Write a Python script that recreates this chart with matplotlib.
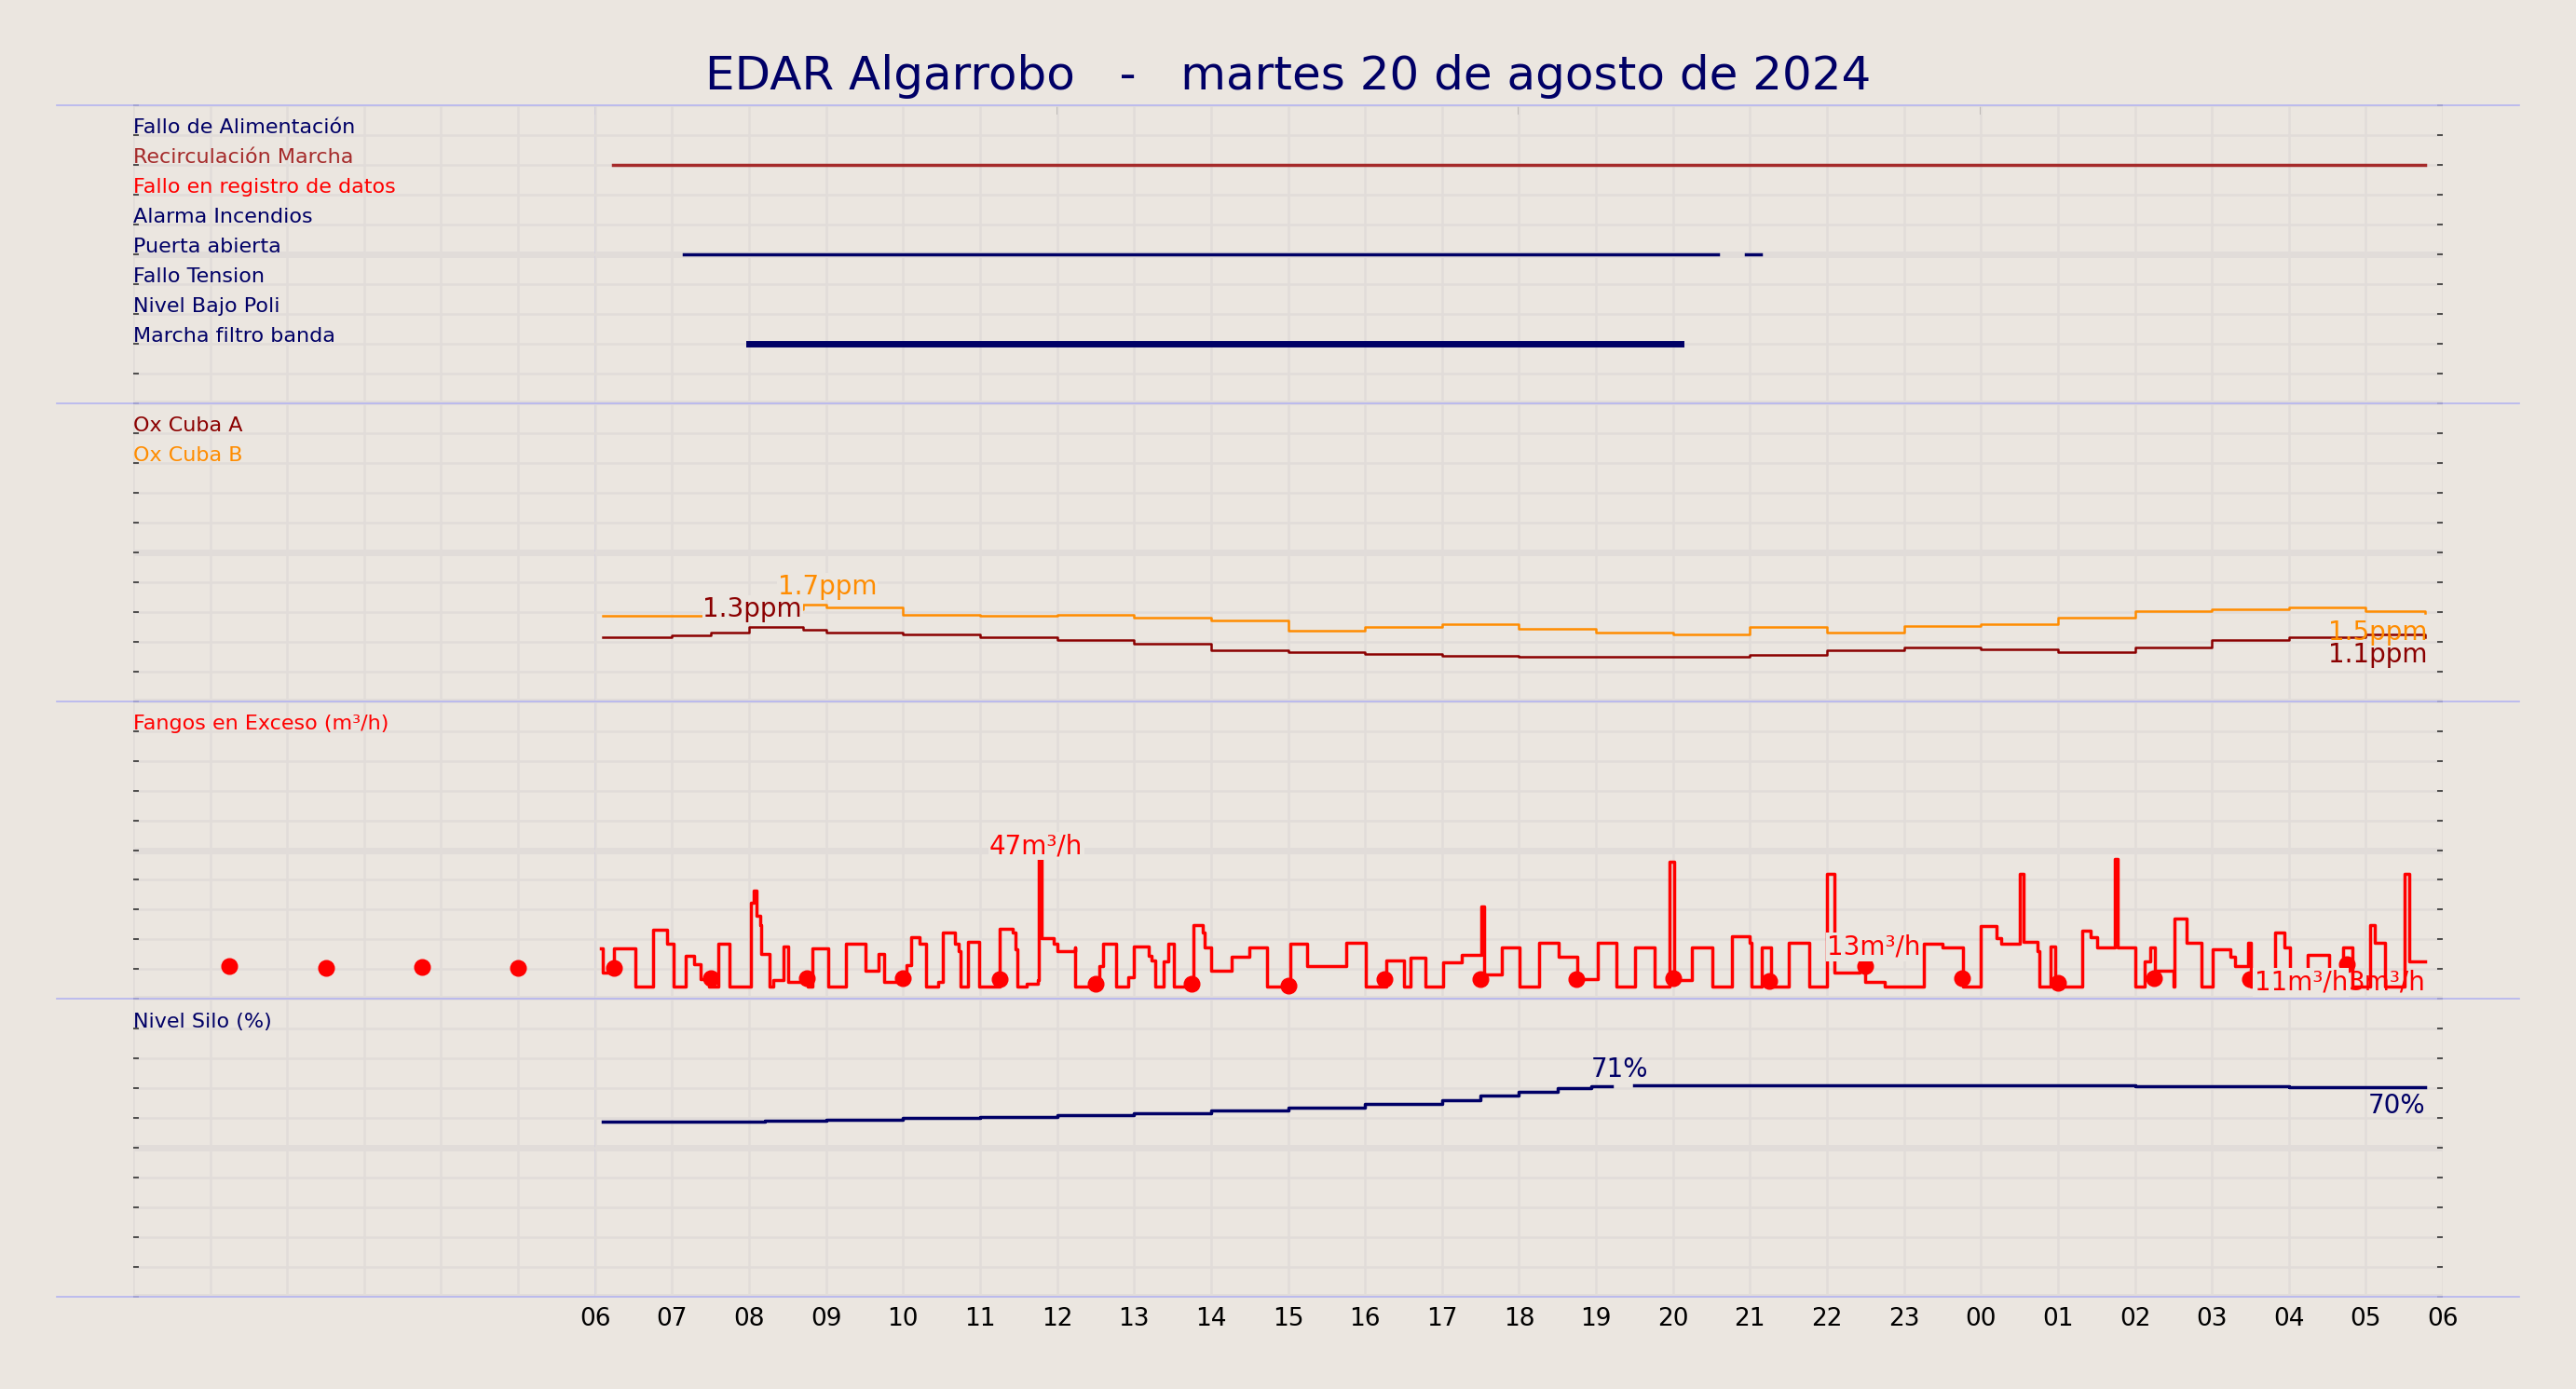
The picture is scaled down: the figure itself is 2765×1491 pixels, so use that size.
import numpy as np
import matplotlib
matplotlib.use("Agg")
import matplotlib.pyplot as plt
from matplotlib.lines import Line2D

BG = '#ebe6e0'
GRID = '#e1dcd9'
NAVY = '#000066'
SEP = '#b4b4f0'

title = "EDAR Algarrobo   -   martes 20 de agosto de 2024"
hour_ticks = list(range(6, 31))
hour_labels = ["%02d" % (h % 24) for h in hour_ticks]

# Panel 1: digital signals
signal_names = ["Fallo de Alimentación", "Recirculación Marcha", "Fallo en registro de datos",
                "Alarma Incendios", "Puerta abierta", "Fallo Tension", "Nivel Bajo Poli",
                "Marcha filtro banda"]
signal_colors = [NAVY, '#a52a2a', 'red', NAVY, NAVY, NAVY, NAVY, NAVY]
recirc_on = [(6.23, 29.77)]
puerta_on = [(7.15, 20.58), (20.95, 21.14)]
filtro_on = [(8.0, 20.1)]

# Panel 2: oxygen (ppm)
ox_t = [6.1, 7.0, 7.5, 8.0, 8.7, 9.0, 10.0, 11.0, 12.0, 13.0, 14.0, 15.0, 16.0, 17.0, 18.0,
        19.0, 20.0, 21.0, 22.0, 23.0, 24.0, 25.0, 26.0, 27.0, 28.0, 29.0, 29.77]
ox_a = [1.11, 1.14, 1.2, 1.29, 1.25, 1.2, 1.17, 1.11, 1.06, 1.0, 0.89, 0.86, 0.82, 0.79, 0.77,
        0.77, 0.78, 0.8, 0.89, 0.94, 0.91, 0.86, 0.94, 1.06, 1.11, 1.17, 1.12]
ox_b = [1.49, 1.49, 1.55, 1.6, 1.69, 1.63, 1.51, 1.49, 1.51, 1.46, 1.4, 1.23, 1.29, 1.34, 1.26,
        1.2, 1.17, 1.29, 1.2, 1.31, 1.34, 1.46, 1.57, 1.6, 1.63, 1.57, 1.54]

# Panel 3: fangos (m3/h)
fang_t = [6.08, 6.10, 6.25, 6.52, 6.75, 6.94, 7.02, 7.18, 7.28, 7.37, 7.48, 7.60, 7.75, 8.02, 8.06,
          8.10, 8.14, 8.16, 8.26, 8.31, 8.45, 8.51, 8.76, 8.82, 9.03, 9.26, 9.51, 9.68, 9.76, 10.04,
          10.11, 10.22, 10.30, 10.45, 10.52, 10.67, 10.72, 10.75, 10.84, 10.99, 11.26, 11.42, 11.46,
          11.49, 11.61, 11.75, 11.76, 11.80, 11.96, 12.0, 12.23, 12.24, 12.55, 12.60, 12.77, 12.92,
          13.00, 13.19, 13.23, 13.27, 13.38, 13.45, 13.52, 13.77, 13.89, 13.92, 14.00, 14.27, 14.50,
          14.73, 15.03, 15.25, 15.76, 16.01, 16.28, 16.51, 16.59, 16.78, 17.01, 17.26, 17.51, 17.55,
          17.78, 18.01, 18.26, 18.51, 18.76, 19.02, 19.26, 19.51, 19.76, 19.96, 20.02, 20.25, 20.51,
          20.77, 21.00, 21.02, 21.15, 21.27, 21.51, 21.77, 22.00, 22.10, 22.42, 22.50, 22.75, 23.26,
          23.50, 23.77, 24.00, 24.20, 24.26, 24.51, 24.55, 24.74, 24.76, 24.91, 24.97, 25.32, 25.42,
          25.51, 25.74, 25.78, 26.01, 26.13, 26.20, 26.26, 26.50, 26.52, 26.67, 26.86, 27.01, 27.24,
          27.30, 27.47, 27.51, 27.82, 27.94, 28.02, 28.25, 28.52, 28.71, 28.83, 29.06, 29.11, 29.25,
          29.50, 29.56, 29.77]
fang_v = [17, 9.0, 17, 4.3, 23.2, 18.5, 4.3, 14.6, 11.8, 6.8, 4.3, 18.5, 4.3, 32.3, 36.4,
          28.1, 24.9, 15.2, 4.3, 6.3, 17.8, 5.8, 4.3, 16.9, 4.3, 18.5, 9.4, 15.2, 5.8, 11.5,
          20.9, 18.5, 4.3, 5.8, 22.4, 18.5, 16.2, 4.3, 19.3, 4.3, 23.7, 22.4, 16.7,
          4.3, 5.0, 6.3, 47, 20.6, 18.5, 16.2, 17.2, 4.3, 11.0, 18.5, 4.3, 7.4,
          17.8, 14.6, 13.1, 4.3, 12.6, 18.5, 4.3, 24.9, 22.4, 17.2, 9.4, 14.1, 17.2,
          4.3, 18.5, 11.0, 18.8, 4.3, 13.1, 4.3, 13.9, 4.3, 12.3, 14.8, 31.0, 8.4,
          17.2, 4.3, 18.8, 14.1, 6.8, 19.0, 4.3, 17.2, 4.3, 46, 6.3, 17.2, 4.3,
          21, 18.8, 4.3, 17.2, 4.3, 18.8, 4.3, 42, 9.0, 11.5, 5.8, 4.3, 18.5,
          17.2, 4.3, 24.5, 20.6, 18.5, 42, 19.3, 16.2, 4.3, 17.8, 4.3, 23.1, 20.9,
          17.2, 47, 17.2, 4.3, 12.6, 17.4, 9.4, 4.3, 27.1, 18.8, 4.3, 16.7, 14.1,
          11.0, 18.8, 4.3, 22.4, 17.2, 4.3, 14.8, 4.3, 17.2, 4.3, 24.9, 18.8, 4.3,
          42, 12.6, 12.6]
dot_t = [1.25 * k for k in range(1, 24)]
dot_v = [11, 10.4, 10.7, 10.4, 10.4, 7.1, 7.1, 7.1, 6.6, 5.0, 5.0, 4.4, 6.6, 6.6, 6.6, 7.1,
         6.0, 11.0, 7.1, 5.5, 7.1, 6.6, 11.8]

# Panel 4: silo level (%)
silo_t = [6.1, 8.2, 9.0, 10.0, 11.0, 12.0, 13.0, 14.0, 15.0, 16.0, 17.0, 17.5, 18.0, 18.5, 18.94,
          19.2, 19.5, 22.0, 25.0, 26.0, 28.0, 29.77]
silo_v = [59.0, 59.2, 59.5, 60.0, 60.5, 61.0, 61.7, 62.5, 63.5, 64.8, 66.2, 67.5, 69.0, 70.0, 70.8,
          np.nan, 71.0, 71.0, 71.0, 70.6, 70.5, 70.3]

fig = plt.figure(figsize=(27.65, 14.91), dpi=100, facecolor=BG)
L, R, T, B = 0.0517, 0.9483, 0.9243, 0.0662
H = (T - B) / 4
tops = [10, 5.2, 100, 100]
axes = []
for i in range(4):
    ax = fig.add_axes([L, T - (i + 1) * H, R - L, H])
    ax.set_facecolor(BG)
    ax.set_xlim(0, 30)
    ax.set_ylim(0, tops[i])
    yt = np.linspace(0, tops[i], 11)
    ax.set_yticks(yt)
    ax.set_yticklabels([])
    ax.set_xticks(range(0, 31))
    ax.set_xticklabels([])
    for s in ax.spines.values():
        s.set_visible(False)
    ax.grid(True, color=GRID, lw=1.8, zorder=0)
    ax.axhline(yt[5], color=GRID, lw=5, zorder=0)
    ax.axhline(0, color=GRID, lw=5, zorder=0)
    ax.axvline(6, color=SEP, lw=1.2, zorder=1)
    ax.tick_params(axis='x', which='both', length=0)
    ax.tick_params(axis='y', left=True, right=True, length=4, width=1.2, direction='in', color='#333333')
    axes.append(ax)

ax1, ax2, ax3, ax4 = axes
FS = 16

# Panel 1
for k, (name, c) in enumerate(zip(signal_names, signal_colors)):
    ax1.text(0, 9 - k - 0.08, name, color=c, fontsize=FS, va='bottom', ha='left')
for a, b in recirc_on:
    ax1.plot([a, b], [8, 8], color='#a52a2a', lw=2.5)
for a, b in puerta_on:
    ax1.plot([a, b], [5, 5], color=NAVY, lw=2.5)
for a, b in filtro_on:
    ax1.plot([a, b], [2, 2], color=NAVY, lw=5)
sec = ax1.secondary_xaxis('top')
sec.set_xticks([6, 12, 18, 24])
sec.set_xticklabels([])
sec.tick_params(direction='in', length=7, width=1.2, color='#333333')
for s in sec.spines.values():
    s.set_visible(False)

# Panel 2
r = 0.52
ax2.text(0, 9 * r - 0.04, "Ox Cuba A", color='#8b0000', fontsize=FS, va='bottom')
ax2.text(0, 8 * r - 0.04, "Ox Cuba B", color='darkorange', fontsize=FS, va='bottom')
ax2.step(ox_t, ox_a, where='post', color='#8b0000', lw=1.8)
ax2.step(ox_t, ox_b, where='post', color='darkorange', lw=1.8)
ax2.text(8.37, 2.0, "1.7ppm", color='darkorange', fontsize=20, va='center', ha='left',
         bbox=dict(facecolor=BG, edgecolor='none', pad=0.5))
ax2.text(7.4, 1.6, "1.3ppm", color='#8b0000', fontsize=20, va='center', ha='left',
         bbox=dict(facecolor=BG, edgecolor='none', pad=0.5))
ax2.text(29.8, 1.2, "1.5ppm", color='darkorange', fontsize=20, va='center', ha='right')
ax2.text(29.8, 0.8, "1.1ppm", color='#8b0000', fontsize=20, va='center', ha='right')

# Panel 3
ax3.text(0, 89.2, "Fangos en Exceso (m³/h)", color='red', fontsize=FS, va='bottom')
ax3.step(fang_t, fang_v, where='post', color='red', lw=2.5, zorder=3)
ax3.plot(dot_t, dot_v, 'o', color='red', ms=12, zorder=4)
ax3.text(11.73, 47, "47m³/h", color='red', fontsize=20, va='bottom', ha='center',
         bbox=dict(facecolor=BG, edgecolor='none', pad=1))
ax3.text(22.0, 17.6, "13m³/h", color='red', fontsize=20, va='center', ha='left', zorder=5,
         bbox=dict(facecolor=BG, edgecolor='none', pad=1))
ax3.text(27.55, 5.5, "11m³/h", color='red', fontsize=20, va='center', ha='left', zorder=5,
         bbox=dict(facecolor=BG, edgecolor='none', pad=1))
ax3.text(28.77, 5.5, "3m³/h", color='red', fontsize=20, va='center', ha='left', zorder=5)

# Panel 4
ax4.text(0, 89.2, "Nivel Silo (%)", color=NAVY, fontsize=FS, va='bottom')
ax4.step(silo_t, silo_v, where='post', color=NAVY, lw=2.5)
ax4.text(18.94, 76.4, "71%", color=NAVY, fontsize=20, va='center', ha='left')
ax4.text(29.77, 64.3, "70%", color=NAVY, fontsize=20, va='center', ha='right')
ax4.set_xticks(hour_ticks)
ax4.set_xticklabels(hour_labels, fontsize=19)
ax4.tick_params(axis='x', pad=8)
ax4.set_xticks(range(0, 31), minor=True)
ax4.grid(True, which='minor', axis='x', color=GRID, lw=1.8, zorder=0)
ax4.tick_params(axis='x', which='both', length=0)

# separators
for i in range(5):
    y = T - i * H
    fig.add_artist(Line2D([0.022, 0.978], [y, y], color=SEP, lw=1.2, transform=fig.transFigure))

fig.text(0.5, 0.945, title, color=NAVY, fontsize=36, ha='center', va='center')
fig.savefig("out.png", dpi=100, facecolor=BG)
